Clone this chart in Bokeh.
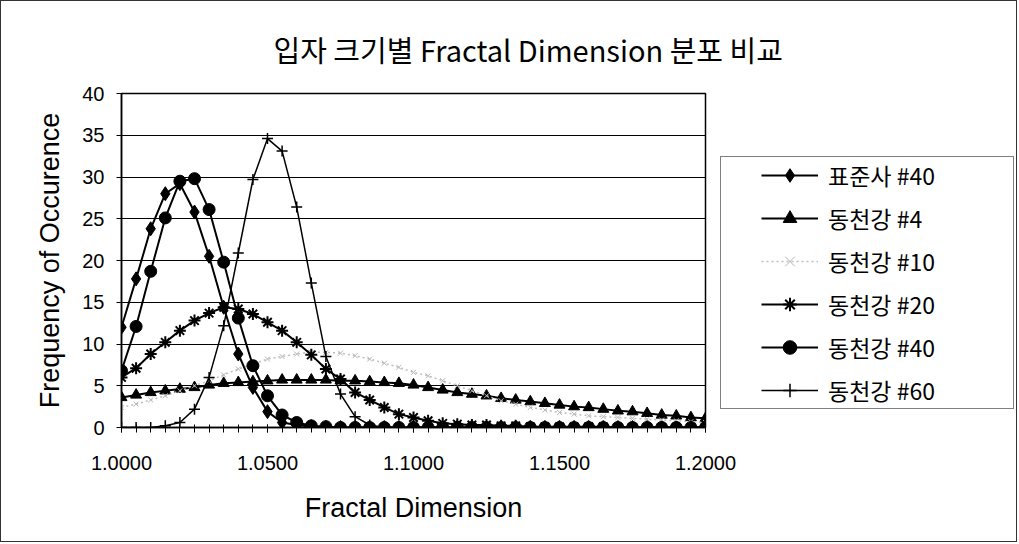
from bokeh.plotting import figure
from bokeh.models import (Range1d, FixedTicker, NumeralTickFormatter, Legend,
                          LegendItem)
from bokeh.embed import file_html
from bokeh.resources import INLINE

# ---------------- data ----------------
fd = [1.000, 1.005, 1.010, 1.015, 1.020, 1.025, 1.030, 1.035, 1.040, 1.045,
      1.050, 1.055, 1.060, 1.065, 1.070, 1.075, 1.080, 1.085, 1.090, 1.095,
      1.100, 1.105, 1.110, 1.115, 1.120, 1.125, 1.130, 1.135, 1.140, 1.145,
      1.150, 1.155, 1.160, 1.165, 1.170, 1.175, 1.180, 1.185, 1.190, 1.195,
      1.200]

std40 = [12.0, 17.8, 23.8, 28.0, 29.2, 25.8, 20.5, 14.4, 8.8, 4.8,
         1.9, 0.6, 0.3, 0.1, 0, 0, 0, 0, 0, 0,
         0, 0, 0, 0, 0, 0, 0, 0, 0, 0,
         0, 0, 0, 0, 0, 0, 0, 0, 0, 0, 0]
dc4 = [3.6, 3.9, 4.2, 4.4, 4.6, 4.8, 5.1, 5.3, 5.4, 5.5,
       5.6, 5.7, 5.7, 5.7, 5.7, 5.6, 5.6, 5.5, 5.4, 5.3,
       5.1, 4.8, 4.5, 4.2, 4.0, 3.8, 3.5, 3.3, 3.1, 2.9,
       2.7, 2.5, 2.4, 2.2, 2.0, 1.9, 1.7, 1.5, 1.4, 1.2, 1.1]
dc10 = [2.4, 2.8, 3.3, 3.8, 4.4, 5.0, 5.6, 6.3, 7.0, 7.6,
        8.2, 8.5, 8.8, 9.0, 9.0, 8.9, 8.6, 8.2, 7.7, 7.2,
        6.6, 6.2, 5.6, 5.0, 4.4, 3.8, 3.2, 2.8, 2.4, 2.1,
        1.8, 1.6, 1.4, 1.3, 1.2, 1.1, 1.0, 0.9, 0.8, 0.7, 0.6]
dc20 = [6.0, 7.1, 8.8, 10.2, 11.6, 12.8, 13.7, 14.4, 14.2, 13.6,
        12.6, 11.6, 10.2, 8.7, 7.0, 5.8, 4.2, 3.3, 2.4, 1.6,
        1.2, 0.8, 0.5, 0.4, 0.3, 0.3, 0.2, 0.2, 0.1, 0.1,
        0.1, 0.1, 0.1, 0.1, 0, 0, 0, 0, 0, 0, 0]
dc40 = [6.8, 12.1, 18.7, 25.1, 29.5, 29.8, 26.1, 19.8, 13.1, 7.4,
        3.8, 1.5, 0.6, 0.2, 0.1, 0, 0, 0, 0, 0,
        0, 0, 0, 0, 0, 0, 0, 0, 0, 0,
        0, 0, 0, 0, 0, 0, 0, 0, 0, 0, 0]
dc60 = [0, 0, 0, 0.2, 0.6, 2.2, 6.0, 12.2, 20.9, 29.7,
        34.6, 33.1, 26.4, 17.3, 8.5, 4.0, 1.3, 0.3, 0, 0,
        0, 0, 0, 0, 0, 0, 0, 0, 0, 0,
        0, 0, 0, 0, 0, 0, 0, 0, 0, 0, 0]

names = ["표준사 #40", "동천강 #4", "동천강 #10", "동천강 #20", "동천강 #40", "동천강 #60"]
x_ticks = [1.0, 1.05, 1.1, 1.15, 1.2]
y_ticks = [0, 5, 10, 15, 20, 25, 30, 35, 40]

title_text = "입자 크기별 Fractal Dimension 분포 비교"
x_label = "Fractal Dimension"
y_label = "Frequency of Occurence"

# ---------------- figure ----------------
p = figure(frame_width=584, frame_height=334, output_backend="svg", toolbar_location=None,
           x_range=Range1d(1.0, 1.2), y_range=Range1d(0, 40),
           min_border_left=120, min_border_right=313,
           min_border_top=92, min_border_bottom=116)
p.styles = {"border": "1px solid #333333", "width": "1017px", "height": "542px",
            "overflow": "hidden"}

p.background_fill_color = "white"
p.border_fill_color = "white"
p.outline_line_color = "black"
p.outline_line_width = 1.5

# title
p.title.text = title_text
p.title.align = "left"
p.title.vertical_align = "top"
p.title.offset = 152
p.title.standoff = 44
p.title.text_font = "Noto Sans CJK KR"
p.title.text_font_size = "29px"
p.title.text_font_style = "normal"
p.title.text_color = "black"

# grids
p.xgrid.visible = False
p.ygrid.ticker = FixedTicker(ticks=y_ticks)
p.ygrid.grid_line_color = "black"
p.ygrid.grid_line_width = 1.2

# axes
for ax in (p.xaxis[0], p.yaxis[0]):
    ax.axis_line_color = "black"
    ax.axis_line_width = 1.5
    ax.major_tick_line_color = "black"
    ax.minor_tick_line_color = "black"
    ax.major_label_text_font = "Liberation Sans"
    ax.major_label_text_font_size = "20px"
    ax.major_label_text_color = "black"
    ax.axis_label_text_font = "Liberation Sans"
    ax.axis_label_text_font_size = "27px"
    ax.axis_label_text_font_style = "normal"
    ax.axis_label_text_color = "black"

p.xaxis.ticker = FixedTicker(ticks=x_ticks, minor_ticks=fd)
p.xaxis.formatter = NumeralTickFormatter(format="0.0000")
p.xaxis.major_tick_in = 3
p.xaxis.major_tick_out = 5
p.xaxis.minor_tick_in = 3
p.xaxis.minor_tick_out = 5
p.xaxis.major_label_standoff = 23
p.xaxis.axis_label = x_label
p.xaxis.axis_label_standoff = 20

p.yaxis.ticker = FixedTicker(ticks=y_ticks)
p.yaxis.major_tick_in = 0
p.yaxis.major_tick_out = 5
p.yaxis.minor_tick_out = 0
p.yaxis.minor_tick_in = 0
p.yaxis.major_label_standoff = 12
p.yaxis.axis_label = y_label
p.yaxis.axis_label_standoff = 14

# ---------------- series ----------------
items = []

l = p.line(fd, std40, line_color="black", line_width=2)
s = p.scatter(fd, std40, marker="diamond", size=14, fill_color="black", line_color="black")
items.append(LegendItem(label=names[0], renderers=[l, s]))

l = p.line(fd, dc4, line_color="black", line_width=2)
s = p.scatter(fd, dc4, marker="triangle", size=11, fill_color="black", line_color="black")
items.append(LegendItem(label=names[1], renderers=[l, s]))

l = p.line(fd, dc10, line_color="#bdbdbd", line_width=1.5, line_dash="2 3")
s = p.scatter(fd, dc10, marker="x", size=7, line_color="#b5b5b5", line_width=1)
items.append(LegendItem(label=names[2], renderers=[l, s]))

l = p.line(fd, dc20, line_color="black", line_width=2)
s = p.scatter(fd, dc20, marker="asterisk", size=12, line_color="black", line_width=2)
items.append(LegendItem(label=names[3], renderers=[l, s]))

l = p.line(fd, dc40, line_color="black", line_width=2)
s = p.scatter(fd, dc40, marker="circle", size=12, fill_color="black", line_color="black")
items.append(LegendItem(label=names[4], renderers=[l, s]))

l = p.line(fd, dc60, line_color="black", line_width=1.5)
s = p.scatter(fd, dc60, marker="cross", size=11, line_color="black", line_width=1.5)
items.append(LegendItem(label=names[5], renderers=[l, s]))

legend = Legend(items=items, location=(15, 18), orientation="vertical",
                title=" ", title_location="left", title_text_font_size="2px",
                title_standoff=37,
                glyph_width=57, glyph_height=34, label_height=34, label_width=184,
                spacing=9, padding=1, margin=0, label_standoff=10,
                label_text_font="Noto Sans CJK KR", label_text_font_size="23px",
                label_text_color="black",
                border_line_color="black", border_line_width=1.5,
                background_fill_color="white", background_fill_alpha=1)
p.add_layout(legend, "right")

open("out.html", "w").write(file_html(p, INLINE))
